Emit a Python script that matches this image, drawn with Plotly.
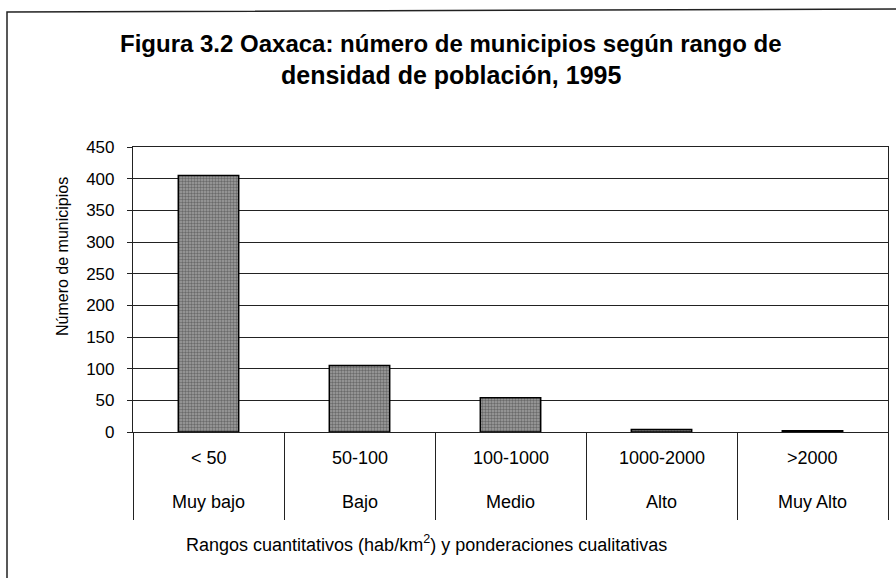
import plotly.graph_objects as go

# Data
rangos = ["< 50", "50-100", "100-1000", "1000-2000", ">2000"]
ponderaciones = ["Muy bajo", "Bajo", "Medio", "Alto", "Muy Alto"]
municipios = [405, 105, 54, 4, 2]
y_ticks = [0, 50, 100, 150, 200, 250, 300, 350, 400, 450]

titulo_1 = "Figura 3.2 Oaxaca: número de municipios según rango de"
titulo_2 = "densidad de población, 1995"
titulo_y = "Número de municipios"
titulo_x = "Rangos cuantitativos (hab/km<sup>2</sup>) y ponderaciones cualitativas"

W, H = 896, 578
L, R, T, B = 133, 8, 147, 146
ph = H - T - B
pw = W - L - R

FONT = "Liberation Sans, Arial, sans-serif"

xs = list(range(len(rangos)))

fig = go.Figure()
fig.add_trace(go.Bar(
    x=xs, y=municipios, width=0.4,
    marker=dict(
        color="#919191",
        line=dict(color="black", width=1.5),
        pattern=dict(shape=".", fgcolor="#333333", bgcolor="#a0a0a0",
                     size=3, solidity=0.5, fillmode="overlay"),
    ),
    showlegend=False, hoverinfo="skip",
))

def py(pix):
    return (H - B - pix) / ph

def px(pix):
    return (pix - L) / pw

annotations = []
for i, (r, p) in enumerate(zip(rangos, ponderaciones)):
    annotations.append(dict(x=i, xref="x", y=py(458), yref="paper", text=r,
                            showarrow=False, font=dict(size=18, color="black", family=FONT),
                            xanchor="center", yanchor="middle"))
    annotations.append(dict(x=i, xref="x", y=py(502), yref="paper", text=p,
                            showarrow=False, font=dict(size=18, color="black", family=FONT),
                            xanchor="center", yanchor="middle"))

annotations.append(dict(x=px(426), xref="paper", y=py(543), yref="paper", text=titulo_x,
                        showarrow=False, font=dict(size=18, color="black", family=FONT),
                        xanchor="center", yanchor="middle"))
annotations.append(dict(x=px(62), xref="paper", y=py(257), yref="paper", text=titulo_y,
                        showarrow=False, textangle=-90,
                        font=dict(size=16, color="black", family=FONT),
                        xanchor="center", yanchor="middle"))
annotations.append(dict(x=px(451), xref="paper", y=py(43), yref="paper",
                        text="<b>" + titulo_1 + "</b>", showarrow=False,
                        font=dict(size=24, color="black", family=FONT),
                        xanchor="center", yanchor="middle"))
annotations.append(dict(x=px(451), xref="paper", y=py(75), yref="paper",
                        text="<b>" + titulo_2 + "</b>", showarrow=False,
                        font=dict(size=25, color="black", family=FONT),
                        xanchor="center", yanchor="middle"))

shapes = [
    dict(type="path", xref="paper", yref="paper",
         path=f"M {px(7)},{py(H + 5)} L {px(7)},{py(12)} L {px(W + 5)},{py(9)}",
         line=dict(color="#222", width=1.5)),
]

fig.update_layout(
    width=W, height=H,
    margin=dict(l=L, r=R, t=T, b=B, pad=0),
    paper_bgcolor="white", plot_bgcolor="white",
    annotations=annotations, shapes=shapes,
    xaxis=dict(
        range=[-0.5, len(rangos) - 0.5],
        tickmode="array",
        tickvals=[i - 0.5 for i in range(len(rangos) + 1)],
        showticklabels=False,
        ticks="outside", ticklen=87, tickwidth=1.2, tickcolor="#222",
        showgrid=False, zeroline=False,
        showline=True, mirror=True, linecolor="#222", linewidth=1.2,
    ),
    yaxis=dict(
        range=[0, 450],
        tickmode="array", tickvals=y_ticks,
        ticks="outside", ticklen=5, tickcolor="#222", tickwidth=1,
        ticklabelstandoff=9,
        tickfont=dict(size=17, color="black", family=FONT),
        showgrid=True, gridcolor="#222", gridwidth=1.2,
        zeroline=False,
        showline=True, mirror=True, linecolor="#222", linewidth=1.2,
    ),
    bargap=0.6,
)

fig.write_html("out.html", config={"displayModeBar": False},
               post_script="document.body.style.margin='0';document.body.style.overflow='hidden';")
